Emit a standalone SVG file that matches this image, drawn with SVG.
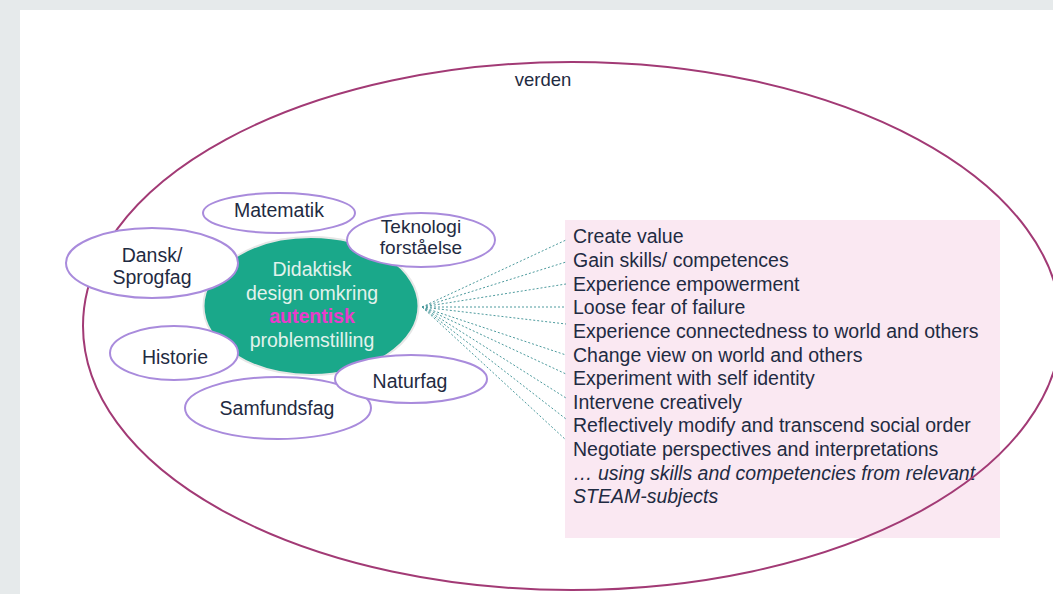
<svg xmlns="http://www.w3.org/2000/svg" width="1053" height="594" viewBox="0 0 1053 594">
<style>
.t{font-family:"Liberation Sans",Arial,sans-serif;font-size:19.5px;fill:#1f2b42}
.c{text-anchor:middle}
.sub{fill:#ffffff;stroke:#a98bdc;stroke-width:2}
.ct{font-family:"Liberation Sans",Arial,sans-serif;font-size:19.5px;fill:#e2f2ec;text-anchor:middle}
.con{stroke:#4e9b9e;stroke-width:1;stroke-dasharray:2 2;fill:none}
</style>
<rect x="0" y="0" width="1053" height="594" fill="#e6eaeb"/>
<rect x="20" y="10" width="1033" height="584" fill="#ffffff"/>
<g id="outcomes">
<rect x="565" y="220" width="435" height="318" fill="#fae8f2"/>
<text class="t" x="573" y="243.3">Create value</text>
<text class="t" x="573" y="266.9">Gain skills/ competences</text>
<text class="t" x="573" y="290.6">Experience empowerment</text>
<text class="t" x="573" y="314.2">Loose fear of failure</text>
<text class="t" x="573" y="337.9">Experience connectedness to world and others</text>
<text class="t" x="573" y="361.5">Change view on world and others</text>
<text class="t" x="573" y="385.1">Experiment with self identity</text>
<text class="t" x="573" y="408.8">Intervene creatively</text>
<text class="t" x="573" y="432.4">Reflectively modify and transcend social order</text>
<text class="t" x="573" y="456.1">Negotiate perspectives and interpretations</text>
<text class="t" x="573" y="479.7" font-style="italic">… using skills and competencies from relevant</text>
<text class="t" x="573" y="503.4" font-style="italic">STEAM-subjects</text>
</g>
<g id="verden">
<ellipse cx="572" cy="326" rx="489" ry="264" fill="none" stroke="#a23a75" stroke-width="2"/>
<text class="t c" x="543" y="86" style="font-size:18.5px">verden</text>
</g>
<g id="connectors">
<path class="con" d="M422 307 L566 240"/>
<path class="con" d="M422 307 L566 262"/>
<path class="con" d="M422 307 L566 284"/>
<path class="con" d="M422 307 L566 307"/>
<path class="con" d="M422 307 L566 324"/>
<path class="con" d="M422 307 L566 355"/>
<path class="con" d="M422 307 L566 374"/>
<path class="con" d="M422 307 L566 398"/>
<path class="con" d="M422 307 L566 419"/>
<path class="con" d="M422 307 L566 440"/>
</g>
<g id="center">
<ellipse cx="311" cy="306" rx="107.5" ry="69" fill="#1aa88a" stroke="#e6e6e6" stroke-width="2"/>
<text class="ct" x="312" y="276">Didaktisk</text>
<text class="ct" x="312" y="299.5">design omkring</text>
<text class="ct" x="312" y="323" style="fill:#e83ccb;font-weight:bold">autentisk</text>
<text class="ct" x="312" y="346.5">problemstilling</text>
</g>
<g id="matematik">
<ellipse class="sub" cx="279" cy="213" rx="76" ry="20"/>
<text class="t c" x="279" y="217">Matematik</text>
</g>
<g id="teknologi">
<ellipse class="sub" cx="421" cy="240" rx="74" ry="27"/>
<text class="t c" x="421" y="233" style="font-size:19px">Teknologi</text>
<text class="t c" x="421" y="254" style="font-size:19px">forståelse</text>
</g>
<g id="dansk">
<ellipse class="sub" cx="152" cy="263" rx="86" ry="35"/>
<text class="t c" x="152" y="262">Dansk/</text>
<text class="t c" x="152" y="284">Sprogfag</text>
</g>
<g id="samfundsfag">
<ellipse class="sub" cx="278" cy="408" rx="93" ry="31"/>
<text class="t c" x="277" y="415">Samfundsfag</text>
</g>
<g id="historie">
<ellipse class="sub" cx="174" cy="353" rx="64" ry="27"/>
<text class="t c" x="175" y="364">Historie</text>
</g>
<g id="naturfag">
<ellipse class="sub" cx="411" cy="379" rx="76" ry="24"/>
<text class="t c" x="410" y="388">Naturfag</text>
</g>
</svg>
